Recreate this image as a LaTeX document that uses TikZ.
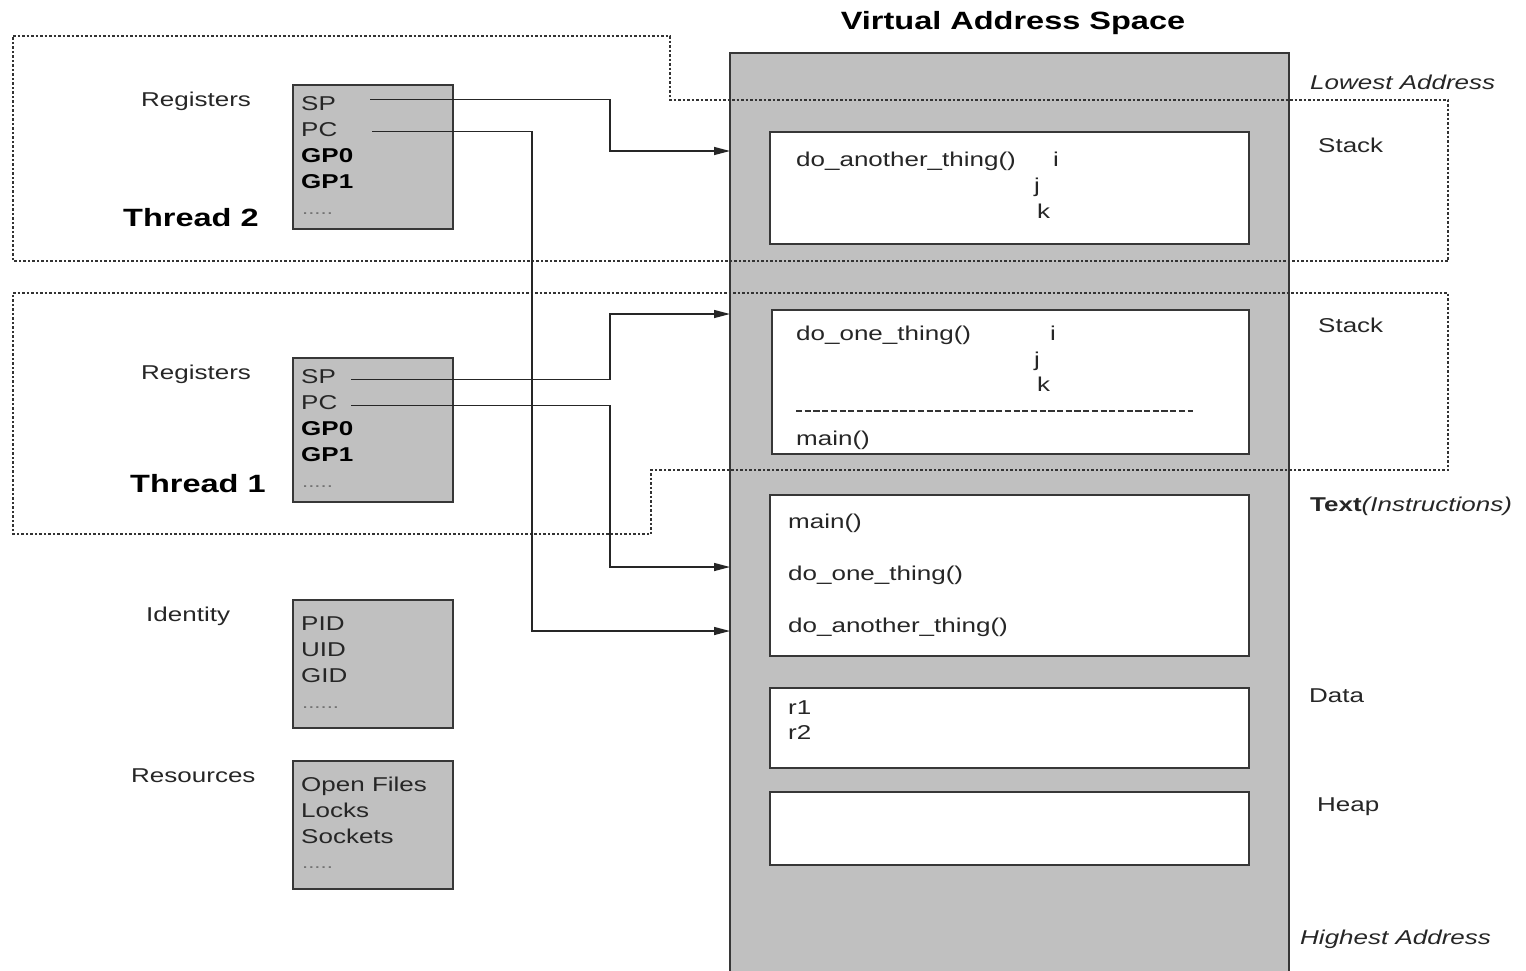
\documentclass[tikz,border=0pt]{standalone}
\usepackage{fontspec}
\setmainfont{Liberation Sans}[FakeStretch=1.3]
\usetikzlibrary{arrows.meta}
\definecolor{silver}{RGB}{192,192,192}
\definecolor{edge}{RGB}{55,55,55}

\begin{document}
\begin{tikzpicture}[x=1pt,y=-1pt,
  lbl/.style={anchor=base west, inner sep=0, font=\fontsize{20}{24}\selectfont, text=black!85},
  blbl/.style={anchor=base west, inner sep=0, font=\fontsize{20}{24}\selectfont\bfseries},
  head/.style={anchor=base west, inner sep=0, font=\fontsize{25}{30}\selectfont\bfseries},
  ilbl/.style={anchor=base west, inner sep=0, font=\fontsize{20}{24}\selectfont\itshape, text=black!85},
  dotrow/.style={anchor=base west, inner sep=0, font=\fontsize{17}{20}\selectfont, text=black!55},
  gbox/.style={draw=edge, fill=silver, line width=1.5pt, anchor=north west, inner sep=0, outer sep=0},
  wbox/.style={draw=edge, fill=white, line width=1.5pt, anchor=north west, inner sep=0, outer sep=0},
  zone/.style={draw=black!80, line width=1.1pt, dash pattern=on 2.5pt off 2pt},
  sepline/.style={draw=black!80, line width=1.1pt, dash pattern=on 6.2pt off 2.5pt},
  conn/.style={draw=black!85, line width=1.4pt, -{Triangle[length=16pt,width=8pt]}}
]
\useasboundingbox (0,0) rectangle (1526,970);

% ---------- virtual address space ----------
\node[head, anchor=base] (title) at (1013,29) {Virtual Address Space};
\node[gbox, minimum width=559pt, minimum height=960pt] (vas) at (730,53) {};

% thread regions (dotted outlines)
\draw[zone] (13,36) -- (670,36) -- (670,100) -- (1448,100) -- (1448,261) -- (13,261) -- cycle;
\draw[zone] (13,293) -- (1448,293) -- (1448,470) -- (651,470) -- (651,534) -- (13,534) -- cycle;

% segments
\node[wbox, minimum width=479pt, minimum height=112pt] (stack2) at (770,132) {};
\node[wbox, minimum width=477pt, minimum height=144pt] (stack1) at (772,310) {};
\node[wbox, minimum width=479pt, minimum height=161pt] (text) at (770,495) {};
\node[wbox, minimum width=479pt, minimum height=80pt] (data) at (770,688) {};
\node[wbox, minimum width=479pt, minimum height=73pt] (heap) at (770,792) {};

% stack of thread 2
\node[lbl] (s2f) at (796,166) {do\_another\_thing()};
\node[lbl] (s2i) at (1053,166) {i};
\node[lbl] (s2j) at (1034,192) {j};
\node[lbl] (s2k) at (1037,218) {k};

% stack of thread 1
\node[lbl] (s1f) at (796,340) {do\_one\_thing()};
\node[lbl] (s1i) at (1050,340) {i};
\node[lbl] (s1j) at (1034,366) {j};
\node[lbl] (s1k) at (1037,391) {k};
\draw[sepline] (796,411) -- (1193,411);
\node[lbl] (s1m) at (796,445) {main()};

% text segment
\node[lbl] (tx1) at (788,528) {main()};
\node[lbl] (tx2) at (788,580) {do\_one\_thing()};
\node[lbl] (tx3) at (788,632) {do\_another\_thing()};

% data segment
\node[lbl] (r1) at (788,714) {r1};
\node[lbl] (r2) at (788,739) {r2};

% right-hand labels
\node[ilbl] (low) at (1310,89) {Lowest Address};
\node[lbl] (st2) at (1318,152) {Stack};
\node[lbl] (st1) at (1318,332) {Stack};
\node[lbl] (txl) at (1310,511) {\textbf{Text}\textit{(Instructions)}};
\node[lbl] (dtl) at (1309,702) {Data};
\node[lbl] (hpl) at (1317,811) {Heap};
\node[ilbl] (high) at (1300,944) {Highest Address};

% ---------- thread 2 ----------
\node[lbl] (reg2) at (141,106) {Registers};
\node[head] (th2) at (123,226) {Thread 2};
\node[gbox, minimum width=160pt, minimum height=144pt] (regs2) at (293,85) {};
\node[lbl] (sp2) at (301,110) {SP};
\node[lbl] (pc2) at (301,136) {PC};
\node[blbl] (g02) at (301,162) {GP0};
\node[blbl] (g12) at (301,188) {GP1};
\node[dotrow] (d2) at (302,214) {.....};

% ---------- thread 1 ----------
\node[lbl] (reg1) at (141,379) {Registers};
\node[head] (th1) at (130,492) {Thread 1};
\node[gbox, minimum width=160pt, minimum height=144pt] (regs1) at (293,358) {};
\node[lbl] (sp1) at (301,383) {SP};
\node[lbl] (pc1) at (301,409) {PC};
\node[blbl] (g01) at (301,435) {GP0};
\node[blbl] (g11) at (301,461) {GP1};
\node[dotrow] (d1) at (302,487) {.....};

% ---------- identity ----------
\node[lbl] (idl) at (146,621) {Identity};
\node[gbox, minimum width=160pt, minimum height=128pt] (idbox) at (293,600) {};
\node[lbl] (pid) at (301,630) {PID};
\node[lbl] (uid) at (301,656) {UID};
\node[lbl] (gid) at (301,682) {GID};
\node[dotrow] (d3) at (302,708) {......};

% ---------- resources ----------
\node[lbl] (rsl) at (131,782) {Resources};
\node[gbox, minimum width=160pt, minimum height=128pt] (rsbox) at (293,761) {};
\node[lbl] (ofl) at (301,791) {Open Files};
\node[lbl] (lck) at (301,817) {Locks};
\node[lbl] (sck) at (301,843) {Sockets};
\node[dotrow] (d4) at (302,868) {.....};

% ---------- register pointers ----------
\coordinate (sp2o) at (370,99.5);
\coordinate (pc2o) at (372,131.5);
\coordinate (sp1o) at (351,379.5);
\coordinate (pc1o) at (351,405.5);
\coordinate (sp2t) at (vas.west |- 0,151);
\coordinate (pc2t) at (vas.west |- 0,631);
\coordinate (sp1t) at (vas.west |- 0,314);
\coordinate (pc1t) at (vas.west |- 0,567);

\draw[conn] (sp2o) -- (610,99.5) |- (sp2t);
\draw[conn] (pc2o) -- (532,131.5) |- (pc2t);
\draw[conn] (sp1o) -- (610,379.5) |- (sp1t);
\draw[conn] (pc1o) -- (610,405.5) |- (pc1t);
\end{tikzpicture}
\end{document}
